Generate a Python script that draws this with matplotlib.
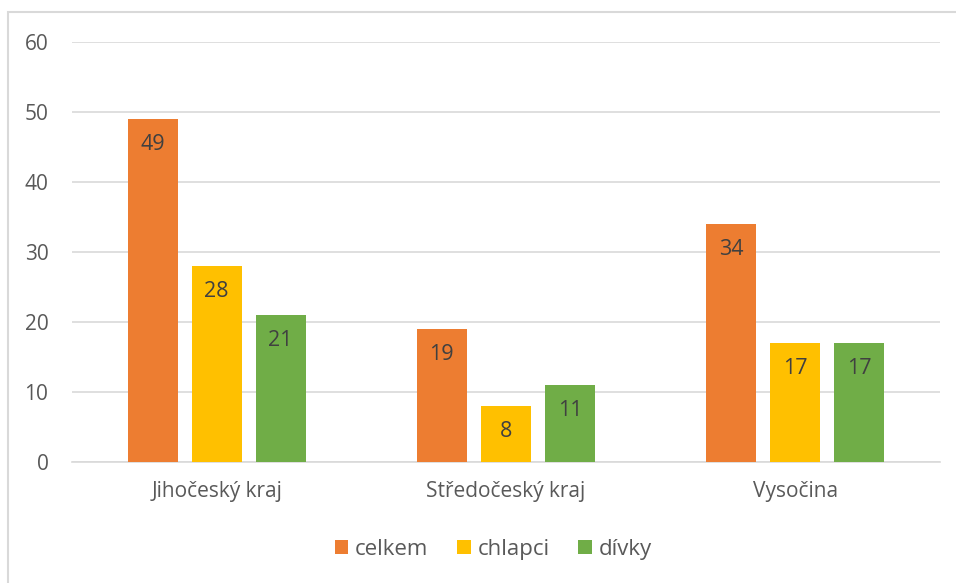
import matplotlib
matplotlib.use("Agg")
import matplotlib.pyplot as plt
import numpy as np
from matplotlib.patches import Rectangle

categories = ["Jihočeský kraj", "Středočeský kraj", "Vysočina"]
series_names = ["celkem", "chlapci", "dívky"]
celkem = [49, 19, 34]
chlapci = [28, 8, 17]
divky = [21, 11, 17]
colors = ["#ED7D31", "#FFC000", "#70AD47"]

plt.rcParams['font.family'] = ['Open Sans', 'DejaVu Sans']

fig = plt.figure(figsize=(9.56, 5.83), dpi=100)
ax = fig.add_axes([0.0753, 0.2075, 0.9077, 0.7205])

x = np.arange(len(categories))
pitch = 0.2215
width = 0.173
for i, (name, vals) in enumerate(zip(series_names, [celkem, chlapci, divky])):
    pos = x + (i - 1) * pitch
    bars = ax.bar(pos, vals, width, color=colors[i], label=name, zorder=3)
    for b, v in zip(bars, vals):
        ax.text(b.get_x() + b.get_width() / 2, v - 2.1, str(v), ha='center', va='top',
                fontsize=15.5, color='#404040', zorder=4)

ax.set_xlim(-0.5, 2.5)
ax.set_ylim(0, 60)
ax.set_yticks(range(0, 61, 10))
ax.set_xticks(x)
ax.set_xticklabels(categories)
ax.yaxis.grid(True, color='#D9D9D9', linewidth=1.2, zorder=0)
ax.tick_params(axis='both', length=0, labelsize=15, colors='#595959', pad=14)
ax.tick_params(axis='y', pad=17)
for s in ['top', 'right', 'left']:
    ax.spines[s].set_visible(False)
ax.spines['bottom'].set_color('#D9D9D9')
ax.spines['bottom'].set_linewidth(1.2)

leg = fig.legend(loc='center', bbox_to_anchor=(0.516, 0.058), ncol=3, frameon=False,
                 fontsize=16, handlelength=0.6, handleheight=0.6, columnspacing=1.3,
                 handletextpad=0.3)
for t in leg.get_texts():
    t.set_color('#595959')

fig.patches.append(Rectangle((8 / 956, -0.1), 1.1, 1.1 - 12 / 583, transform=fig.transFigure,
                             fill=False, edgecolor='#D9D9D9', linewidth=1.5))

fig.savefig("out.png", dpi=100)
